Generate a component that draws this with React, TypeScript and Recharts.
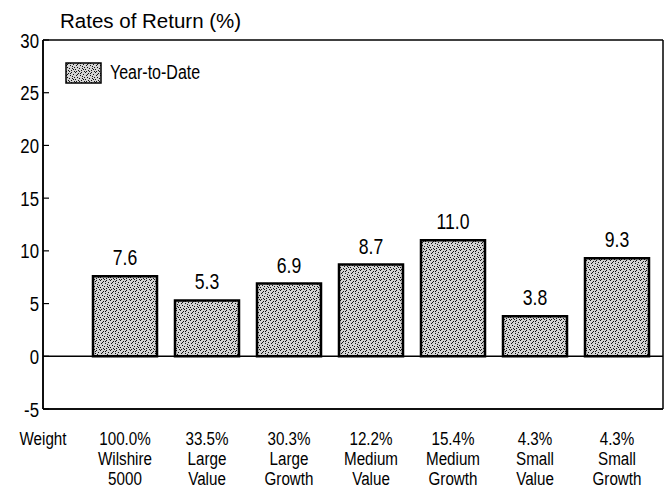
import React from 'react';
import { Bar, BarChart, CartesianGrid, LabelList, Legend, ReferenceLine, XAxis, YAxis } from 'recharts';

const nameTop = ['Wilshire', 'Large', 'Large', 'Medium', 'Medium', 'Small', 'Small'];
const nameBottom = ['5000', 'Value', 'Growth', 'Value', 'Growth', 'Value', 'Growth'];
const weights = ['100.0%', '33.5%', '30.3%', '12.2%', '15.4%', '4.3%', '4.3%'];
const ytd = [7.6, 5.3, 6.9, 8.7, 11.0, 3.8, 9.3];
const yTicks = [-5, 0, 5, 10, 15, 20, 25, 30];

const data = nameTop.map((n, i) => ({
  key: `${n} ${nameBottom[i]}`,
  ytd: ytd[i],
}));

const FONT = "'Liberation Sans', Arial, sans-serif";
const SQUEEZE = 0.8; // the original uses a narrow face

// stipple texture for the bars
const dots = [
  [0, 0], [3, 1], [6, 0], [8, 2], [1, 3], [5, 3], [9, 5], [2, 5],
  [4, 6], [7, 6], [0, 7], [6, 8], [3, 8], [9, 9], [1, 9], [8, 7],
  [5, 1], [2, 2], [7, 4], [4, 9],
];

const NText = ({ x, y, size, anchor = 'middle', children }: any) => (
  <text
    transform={`translate(${x},${y}) scale(${SQUEEZE},1)`}
    textAnchor={anchor}
    fontSize={size}
    fontFamily={FONT}
    fill="#000"
  >
    {children}
  </text>
);

const YTick = (props: any) => {
  const { x, y, payload } = props;
  return (
    <g>
      <line x1={x} x2={x + 6} y1={y} y2={y} stroke="#000" strokeWidth={1.2} />
      <NText x={x - 4} y={y + 7.5} size={21} anchor="end">
        {payload.value}
      </NText>
    </g>
  );
};

const XTick = (props: any) => {
  const { x, y, payload } = props;
  const i = payload.index ?? props.index;
  return (
    <g>
      {i === 0 && (
        <NText x={x - 82} y={y + 36} size={19}>
          Weight
        </NText>
      )}
      <NText x={x} y={y + 36} size={19}>{weights[i]}</NText>
      <NText x={x} y={y + 56} size={19}>{nameTop[i]}</NText>
      <NText x={x} y={y + 76} size={19}>{nameBottom[i]}</NText>
    </g>
  );
};

const ValueLabel = (props: any) => {
  const { x, y, width, value } = props;
  return (
    <NText x={Number(x) + Number(width) / 2} y={Number(y) - 11} size={22}>
      {Number(value).toFixed(1)}
    </NText>
  );
};

const LegendBox = () => (
  <div style={{ display: 'flex', alignItems: 'center', fontFamily: FONT, fontSize: 20, color: '#000' }}>
    <svg width={37} height={22} style={{ marginRight: 8 }}>
      <rect x={1} y={1} width={35} height={20} fill="url(#stip)" stroke="#000" strokeWidth={1.5} />
    </svg>
    <span style={{ display: 'inline-block', transform: `scaleX(${SQUEEZE})`, transformOrigin: 'left center' }}>
      Year-to-Date
    </span>
  </div>
);

export default function App() {
  return (
    <div style={{ position: 'absolute', left: 0, top: 0, width: 669, height: 493, background: '#fff' }}>
      <div
        style={{
          position: 'absolute',
          left: 60,
          top: 9,
          fontFamily: FONT,
          fontSize: 20.5,
          color: '#000',
          whiteSpace: 'nowrap',
        }}
      >
        Rates of Return (%)
      </div>
      <BarChart width={669} height={493} data={data} margin={{ top: 40, right: 6, bottom: 0, left: 0 }}>
        <defs>
          <pattern id="stip" width={10} height={10} patternUnits="userSpaceOnUse">
            <rect width={10} height={10} fill="#d2d2d2" />
            {dots.map(([dx, dy], k) => (
              <rect key={k} x={dx} y={dy} width={1} height={1} fill="#111" />
            ))}
          </pattern>
        </defs>
        {/* frame round the plot area */}
        <CartesianGrid
          stroke="#000"
          strokeWidth={1.5}
          strokeDasharray=""
          horizontalCoordinatesGenerator={({ offset }: any) => [offset.top, offset.top + offset.height]}
          verticalCoordinatesGenerator={({ offset }: any) => [offset.left, offset.left + offset.width]}
        />
        <XAxis
          dataKey="key"
          interval={0}
          height={84}
          tickSize={0}
          tickMargin={0}
          tickLine={false}
          axisLine={{ stroke: '#000', strokeWidth: 1.5 }}
          padding={{ left: 41, right: 5 }}
          tick={<XTick />}
        />
        <YAxis
          type="number"
          domain={[-5, 30]}
          ticks={yTicks}
          interval={0}
          width={43}
          tickSize={0}
          tickMargin={0}
          tickLine={false}
          axisLine={{ stroke: '#000', strokeWidth: 1.5 }}
          tick={<YTick />}
        />
        <Legend
          layout="horizontal"
          verticalAlign="middle"
          align="center"
          wrapperStyle={{ top: 61, left: 65, width: 'auto', height: 'auto' }}
          content={() => <LegendBox />}
        />
        <ReferenceLine y={0} stroke="#000" strokeWidth={1.5} />
        <Bar dataKey="ytd" fill="url(#stip)" stroke="#000" strokeWidth={2.5} barSize={64} isAnimationActive={false}>
          <LabelList dataKey="ytd" content={<ValueLabel />} />
        </Bar>
      </BarChart>
    </div>
  );
}
